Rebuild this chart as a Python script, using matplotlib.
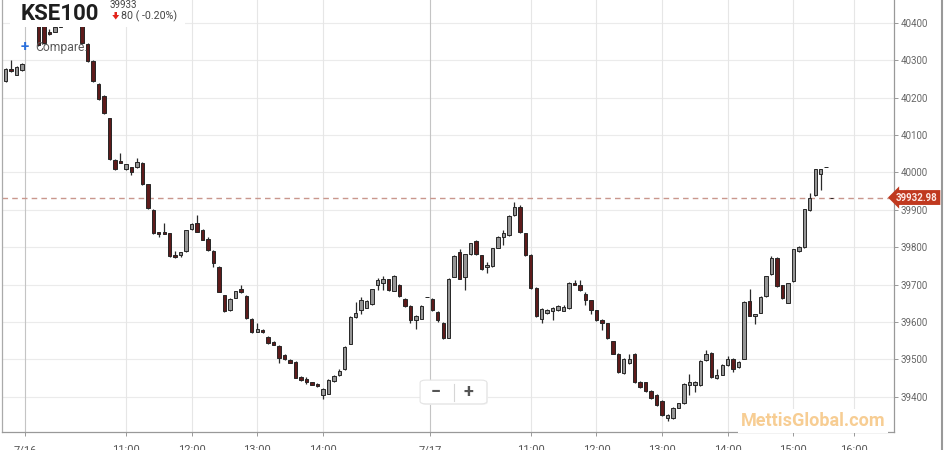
import matplotlib
matplotlib.use('Agg')
import matplotlib.pyplot as plt
from matplotlib.patches import Rectangle, Polygon, FancyBboxPatch
from matplotlib.lines import Line2D

plt.rcParams['font.family'] = ['Roboto', 'DejaVu Sans']

# KSE100 五分钟K线 (7/15 尾盘 4 根 + 7/16 + 7/17)
opens = [40245, 40276, 40262, 40274, 40400, 40430, 40410, 40400, 40376, 40376,
         40390, 40415, 40430, 40420, 40398, 40345, 40298, 40238, 40205, 40145,
         40033, 40031, 40009, 40014, 40015, 40026, 39968, 39900, 39840, 39841,
         39837, 39779, 39779, 39789, 39849, 39864, 39845, 39822, 39790, 39748,
         39671, 39631, 39665, 39689, 39670, 39608, 39574, 39578, 39561, 39546,
         39536, 39512, 39497, 39494, 39453, 39447, 39438, 39434, 39405, 39408,
         39441, 39457, 39473, 39542, 39612, 39631, 39638, 39648, 39699, 39703,
         39714, 39684, 39699, 39661, 39643, 39606, 39609, 39667, 39662, 39627,
         39598, 39558, 39721, 39787, 39719, 39782, 39816, 39778, 39746, 39749,
         39799, 39828, 39832, 39886, 39908, 39837, 39779, 39691, 39609, 39624,
         39629, 39631, 39630, 39637, 39704, 39698, 39676, 39658, 39631, 39605,
         39596, 39548, 39515, 39463, 39489, 39515, 39439, 39438, 39416, 39404,
         39389, 39343, 39343, 39371, 39383, 39431, 39432, 39431, 39497, 39518,
         39449, 39459, 39484, 39502, 39480, 39502, 39655, 39615, 39625, 39669,
         39728, 39772, 39698, 39652, 39710, 39790, 39801, 39899, 39939, 39996,
         40015, 39933]
highs = [40280, 40300, 40285, 40292, 40440, 40445, 40415, 40405, 40383, 40392,
         40420, 40440, 40445, 40430, 40402, 40347, 40300, 40240, 40208, 40147,
         40035, 40052, 40023, 40015, 40038, 40028, 39970, 39902, 39841, 39865,
         39839, 39790, 39788, 39847, 39866, 39886, 39848, 39826, 39792, 39750,
         39673, 39664, 39684, 39698, 39672, 39610, 39596, 39582, 39563, 39550,
         39538, 39514, 39500, 39496, 39455, 39452, 39440, 39436, 39423, 39446,
         39458, 39474, 39535, 39616, 39653, 39667, 39660, 39689, 39718, 39722,
         39716, 39725, 39701, 39663, 39645, 39618, 39645, 39667, 39664, 39629,
         39600, 39718, 39779, 39796, 39783, 39812, 39818, 39780, 39760, 39799,
         39830, 39846, 39885, 39921, 39912, 39839, 39781, 39693, 39636, 39635,
         39640, 39645, 39645, 39706, 39712, 39711, 39680, 39660, 39633, 39607,
         39598, 39550, 39517, 39504, 39515, 39517, 39441, 39440, 39418, 39406,
         39391, 39354, 39373, 39384, 39437, 39462, 39441, 39497, 39526, 39520,
         39475, 39488, 39510, 39504, 39495, 39656, 39687, 39622, 39669, 39724,
         39776, 39774, 39700, 39705, 39796, 39803, 39903, 39944, 40010, 40010,
         40015, 39933]
lows = [40243, 40270, 40260, 40272, 40395, 40400, 40338, 40345, 40367, 40375,
        40388, 40410, 40415, 40398, 40345, 40296, 40242, 40193, 40157, 40033,
        40007, 40024, 40007, 39993, 40013, 39966, 39903, 39835, 39828, 39834,
        39774, 39772, 39775, 39787, 39847, 39840, 39818, 39790, 39747, 39679,
        39626, 39628, 39663, 39678, 39608, 39570, 39572, 39570, 39540, 39537,
        39489, 39497, 39489, 39449, 39443, 39433, 39430, 39425, 39395, 39406,
        39439, 39455, 39471, 39540, 39610, 39622, 39636, 39646, 39685, 39685,
        39684, 39682, 39667, 39640, 39598, 39582, 39607, 39667, 39630, 39601,
        39554, 39556, 39719, 39714, 39685, 39780, 39780, 39738, 39732, 39747,
        39797, 39805, 39830, 39884, 39838, 39777, 39688, 39613, 39597, 39622,
        39605, 39629, 39628, 39635, 39698, 39683, 39645, 39622, 39603, 39578,
        39554, 39513, 39464, 39461, 39487, 39437, 39424, 39413, 39395, 39375,
        39349, 39336, 39341, 39369, 39381, 39404, 39413, 39429, 39495, 39451,
        39447, 39457, 39482, 39466, 39478, 39500, 39615, 39594, 39623, 39667,
        39726, 39694, 39662, 39650, 39708, 39787, 39799, 39897, 39937, 39953,
        40015, 39933]
closes = [40276, 40272, 40283, 40290, 40430, 40410, 40342, 40347, 40370, 40389,
          40415, 40430, 40420, 40405, 40347, 40298, 40244, 40196, 40160, 40035,
          40009, 40026, 40022, 40000, 40028, 39970, 39905, 39838, 39836, 39836,
          39777, 39775, 39786, 39845, 39863, 39842, 39820, 39793, 39757, 39681,
          39630, 39662, 39682, 39681, 39610, 39572, 39582, 39572, 39543, 39539,
          39503, 39500, 39491, 39451, 39445, 39439, 39432, 39428, 39421, 39444,
          39455, 39470, 39533, 39614, 39625, 39658, 39657, 39687, 39713, 39714,
          39686, 39722, 39669, 39642, 39605, 39616, 39643, 39667, 39632, 39604,
          39556, 39716, 39777, 39716, 39781, 39810, 39782, 39743, 39752, 39797,
          39828, 39837, 39883, 39908, 39840, 39779, 39690, 39615, 39634, 39633,
          39637, 39642, 39641, 39704, 39700, 39686, 39659, 39631, 39605, 39597,
          39556, 39515, 39466, 39502, 39502, 39439, 39426, 39415, 39397, 39377,
          39351, 39352, 39371, 39382, 39435, 39438, 39439, 39495, 39515, 39453,
          39457, 39486, 39502, 39475, 39493, 39654, 39617, 39620, 39667, 39722,
          39770, 39696, 39664, 39703, 39794, 39801, 39901, 39932, 40008, 40008,
          40015, 39933]

last_price = 39932.98
header_last = '39933'
header_change = '80 ( -0.20%)'

tick_pos = [3.55, 22, 34, 46, 58, 77.55, 96, 108, 120, 132, 144, 155]
tick_labels = ['7/16', '11:00', '12:00', '13:00', '14:00', '7/17',
               '11:00', '12:00', '13:00', '14:00', '15:00', '16:00']
date_labels = ['7/16', '7/17']
y_ticks = list(range(39400, 40401, 100))

W, H = 950, 450


def fx(x):
    return x / W


def fy(y):
    return 1 - y / H


fig = plt.figure(figsize=(9.5, 4.5), dpi=100)
ax = fig.add_axes([fx(2), 18 / H, 892 / W, 432 / H])

# 网格
for v in y_ticks:
    ax.axhline(v, color='#ebebeb', lw=0.8, zorder=0)
for p, lab in zip(tick_pos, tick_labels):
    c = '#c4c4c4' if lab in date_labels else '#e6e6e6'
    ax.axvline(p, color=c, lw=0.8, zorder=0)

# K线
x = list(range(len(opens)))
bottoms = [min(o, c) for o, c in zip(opens, closes)]
heights = [abs(c - o) for o, c in zip(opens, closes)]
colors = ['#959595' if c >= o else '#5e1b1b' for o, c in zip(opens, closes)]
ax.vlines(x, lows, highs, color='#2a2a2a', lw=0.9, zorder=2)
ax.bar(x, heights, bottom=bottoms, width=0.62, color=colors,
       edgecolor='#262626', linewidth=0.7, zorder=3)

# 最新价虚线
ax.axhline(last_price, color='#c9978d', lw=1, ls=(0, (4, 3)), zorder=1)

ax.set_xlim(-0.66, 162.4)
ax.set_ylim(39305.5, 40461.5)

ax.yaxis.tick_right()
ax.set_yticks(y_ticks)
ax.set_yticklabels([str(v) for v in y_ticks])
ax.tick_params(axis='y', length=3, width=0.7, color='#999999', pad=2,
               labelsize=7, labelcolor='#666666')
ax.set_xticks(tick_pos)
ax.set_xticklabels(tick_labels)
ax.tick_params(axis='x', length=3, width=0.7, color='#999999', pad=6.5,
               labelsize=8, labelcolor='#555555')

ax.spines['top'].set_visible(False)
ax.spines['left'].set_color('#aaaaaa')
ax.spines['bottom'].set_color('#999999')
ax.spines['right'].set_color('#999999')
for s in ax.spines.values():
    s.set_linewidth(0.9)

# 价格标签
ax.text(1.0258, last_price, f'{last_price:.2f}', transform=ax.get_yaxis_transform(),
        ha='center', va='center', fontsize=7, fontweight='bold', color='#fde9e5',
        bbox=dict(boxstyle='larrow,pad=0.25', fc='#c0391f', ec='none'), zorder=10,
        clip_on=False)

# 右侧边框
fig.add_artist(Line2D([fx(942), fx(942)], [0, 1], color='#999999', lw=1.5))

# 标题区域遮挡
fig.add_artist(Rectangle((fx(10), fy(27)), 175 / W, 27 / H, fc='white', ec='none', zorder=2))
fig.text(fx(21), fy(19.5), 'KSE100', fontsize=16, fontweight='bold', color='#1e1e1e',
         va='baseline', zorder=5)
fig.text(fx(110), fy(7.5), header_last, fontsize=7, color='#444444', va='baseline', zorder=5)
fig.add_artist(Polygon([(fx(114.5), fy(12)), (fx(117), fy(12)), (fx(117), fy(15)),
                        (fx(119.2), fy(15)), (fx(115.75), fy(19.5)), (fx(112.3), fy(15)),
                        (fx(114.5), fy(15))], closed=True, fc='#e2231a', ec='none', zorder=5))
fig.text(fx(121.5), fy(19.5), header_change, fontsize=7.7, color='#444444',
         va='baseline', zorder=5)

fig.text(fx(25), fy(47), '+', fontsize=11, fontweight='bold', color='#2a6fdb',
         ha='center', va='center', zorder=5)
fig.text(fx(35), fy(47.5), 'Compare.', fontsize=8.7, color='#5a5a5a', va='center', zorder=5)

# 缩放按钮
fig.add_artist(FancyBboxPatch((fx(423), fy(404)), 63 / W, 22 / H,
                              boxstyle='round,pad=0.002,rounding_size=0.006',
                              fc='#f2f2f2', ec='none', zorder=4))
fig.add_artist(FancyBboxPatch((fx(422), fy(403)), 63 / W, 22 / H,
                              boxstyle='round,pad=0.002,rounding_size=0.006',
                              fc='white', ec='#e4e4e4', lw=0.8, zorder=4))
fig.text(fx(436), fy(392), '\u2212', fontsize=13, fontweight='bold', color='#555555',
         ha='center', va='center', zorder=5)
fig.text(fx(468), fy(392), '+', fontsize=13, fontweight='bold', color='#555555',
         ha='center', va='center', zorder=5)
fig.add_artist(Line2D([fx(454), fx(454)], [fy(384), fy(401)], color='#d6d6d6', lw=0.8, zorder=5))

# 水印
fig.text(fx(813), fy(421), 'MettisGlobal.com', fontsize=13, fontweight='bold',
         color='#f7cd93', ha='center', va='center', zorder=5,
         bbox=dict(boxstyle='square,pad=0.15', fc='white', ec='none'))

fig.savefig('out.png', dpi=100)
